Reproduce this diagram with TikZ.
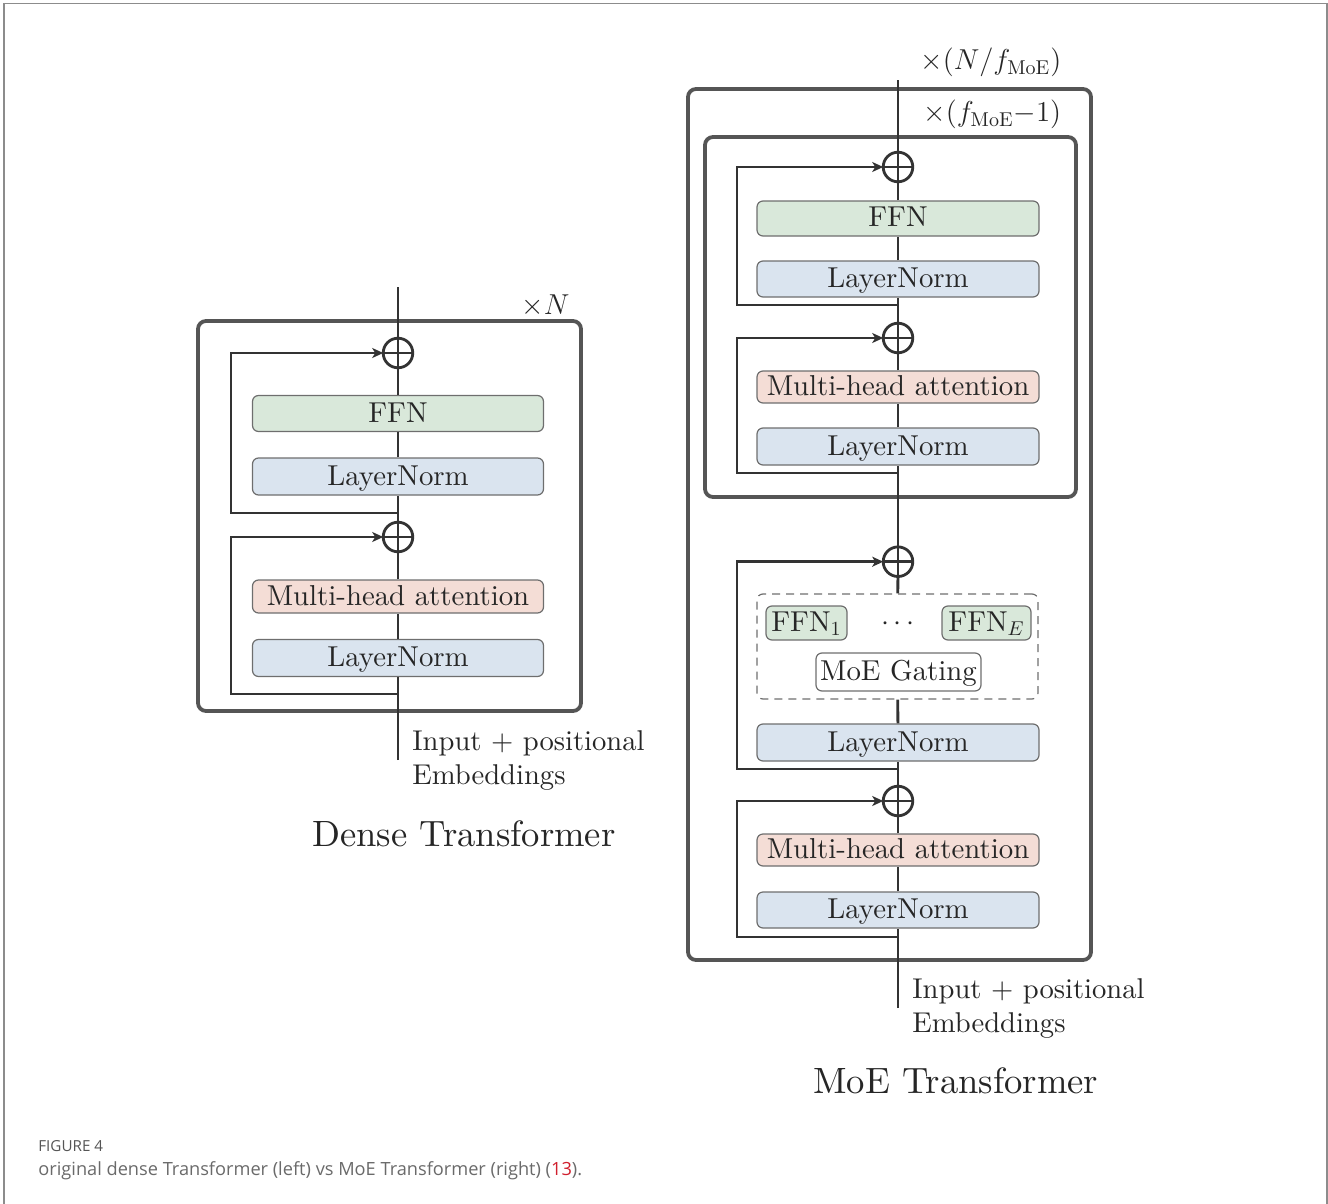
\documentclass[tikz,border=0pt]{standalone}
\usepackage{fontspec}
\setmainfont{lmroman10-regular}[Extension=.otf, BoldFont=lmroman10-bold, ItalicFont=lmroman10-italic]
\newfontfamily\capfont{Open Sans}
\usetikzlibrary{arrows.meta}
\definecolor{lncol}{HTML}{333333}
\definecolor{framecol}{HTML}{555555}
\definecolor{boxd}{HTML}{6E6E6E}
\definecolor{txt}{HTML}{262626}
\definecolor{ffncol}{HTML}{D9E8DA}
\definecolor{normcol}{HTML}{DAE4EF}
\definecolor{mhacol}{HTML}{F4DDD6}
\definecolor{capgray}{HTML}{6A6A6A}
\definecolor{capdark}{HTML}{555555}
\definecolor{refred}{HTML}{D0202E}
\begin{document}
\begin{tikzpicture}[x=0.5pt,y=-0.5pt,
  conn/.style={draw=lncol, line width=1.4pt},
  skip/.style={conn, -{Stealth[length=5.5pt,width=5pt,inset=1.5pt]}},
  blk/.style={draw=boxd, line width=0.6pt, rounded corners=3pt, inner sep=0pt,
    text=txt, font=\fontsize{14.4}{17}\selectfont, text height=10.6pt, text depth=2.1pt},
  ffnbox/.style={blk, fill=ffncol, minimum width=145.5pt, minimum height=18pt},
  normbox/.style={blk, fill=normcol, minimum width=145.5pt, minimum height=18.5pt},
  mhabox/.style={blk, fill=mhacol, minimum width=145.5pt, minimum height=16.5pt},
  plus/.style={circle, draw=lncol, line width=1.4pt, minimum size=14.8pt, inner sep=0pt, outer sep=0pt,
    path picture={\draw[lncol, line width=1.4pt] (path picture bounding box.north) -- (path picture bounding box.south)
      (path picture bounding box.west) -- (path picture bounding box.east);}},
  frame/.style={draw=framecol, line width=1.9pt, rounded corners=4pt, inner sep=0pt},
  lbl/.style={text=txt, inner sep=0pt, anchor=base west, font=\fontsize{14.4}{17}\selectfont},
  inlbl/.style={text=txt, inner sep=0pt, anchor=base west, font=\fontsize{14.3}{17}\selectfont},
  ttl/.style={text=txt, inner sep=0pt, anchor=base west, font=\fontsize{18.3}{21}\selectfont}
]
\useasboundingbox (0,0) rectangle (1328,1204);
% page frame (open at the bottom)
\draw[draw=gray!90, line width=0.75pt] (4,1204) -- (4,3.5) -- (1327,3.5) -- (1327,1204);

% ---------------- Dense Transformer ----------------
\node[frame, minimum width=191.5pt, minimum height=195pt] (dframe) at (389.5,516) {};
\coordinate (dtop) at (398,287);
\coordinate (din) at (398,760);
\node[plus] (dp1) at (398,353) {};
\node[ffnbox] (dffn) at (398,413.5) {FFN};
\node[normbox] (dln1) at (398,476.5) {LayerNorm};
\node[plus] (dp2) at (398,537) {};
\node[mhabox] (dmha) at (398,596.5) {Multi-head attention};
\node[normbox] (dln2) at (398,658) {LayerNorm};
\coordinate (dj1) at (398,513);
\coordinate (dj2) at (398,694);

\draw[conn] (din) -- (dln2);
\draw[conn] (dln2) -- (dmha);
\draw[conn] (dmha) -- (dp2);
\draw[conn] (dp2) -- (dln1);
\draw[conn] (dln1) -- (dffn);
\draw[conn] (dffn) -- (dp1);
\draw[conn] (dp1) -- (dtop);
\draw[skip] (dj1) -- ++(-167,0) |- (dp1.west);
\draw[skip] (dj2) -- ++(-167,0) |- (dp2.west);

\node[lbl] (dN) at (521,314) {$\times N$};
\node[inlbl] (din1) at (412,750) {Input + positional};
\node[inlbl] (din2) at (412,784) {Embeddings};
\node[ttl] (dtitle) at (312,846) {Dense Transformer};

% ---------------- MoE Transformer ----------------
\node[frame, minimum width=201.5pt, minimum height=435.5pt] (mframe) at (889.5,524.5) {};
\node[frame, minimum width=185.5pt, minimum height=180pt] (iframe) at (890.5,317) {};
\coordinate (mtop) at (898,80);
\coordinate (min) at (898,1008);
\node[plus] (mp1) at (898,167) {};
\node[ffnbox, minimum width=141pt, minimum height=17.5pt] (mffn) at (898,218.5) {FFN};
\node[normbox, minimum width=141pt, minimum height=18pt] (mln1) at (898,279) {LayerNorm};
\node[plus] (mp2) at (898,338) {};
\node[mhabox, minimum width=141pt, minimum height=16pt] (mmha1) at (898,387) {Multi-head attention};
\node[normbox, minimum width=141pt] (mln2) at (898,446.5) {LayerNorm};
\node[plus] (mp3) at (898,561.7) {};
\node[draw=boxd, dashed, dash pattern=on 4pt off 3pt, line width=0.6pt, rounded corners=3pt,
      minimum width=140.5pt, minimum height=52.5pt, inner sep=0pt] (mgroup) at (897.5,646.5) {};
\node[blk, fill=ffncol, minimum width=40.5pt, minimum height=17pt] (ffn1) at (806.5,623) {FFN$_1$};
\node[text=txt, inner sep=0pt, font=\fontsize{14.4}{17}\selectfont] (mdots) at (898,624) {$\cdots$};
\node[blk, fill=ffncol, minimum width=44.5pt, minimum height=17pt] (ffnE) at (986.5,623) {FFN$_E$};
\node[blk, fill=white, minimum width=82.5pt, minimum height=19pt] (gate) at (898.5,672) {MoE Gating};
\node[normbox, minimum width=141pt] (mln3) at (898,742.5) {LayerNorm};
\node[plus] (mp4) at (898,801) {};
\node[mhabox, minimum width=141pt, minimum height=16pt] (mmha2) at (898,850) {Multi-head attention};
\node[normbox, minimum width=141pt, minimum height=18pt] (mln4) at (898,910) {LayerNorm};
\coordinate (mj1) at (898,305);
\coordinate (mj2) at (898,473);
\coordinate (mj3) at (898,769);
\coordinate (mj4) at (898,937);

\draw[conn] (min) -- (mln4);
\draw[conn] (mln4) -- (mmha2);
\draw[conn] (mmha2) -- (mp4);
\draw[conn] (mp4) -- (mln3);
\draw[conn] (mln3) -- (mgroup);
\draw[conn] (mgroup) -- (mp3);
\draw[conn] (mp3) -- (mln2);
\draw[conn] (mln2) -- (mmha1);
\draw[conn] (mmha1) -- (mp2);
\draw[conn] (mp2) -- (mln1);
\draw[conn] (mln1) -- (mffn);
\draw[conn] (mffn) -- (mp1);
\draw[conn] (mp1) -- (mtop);
\draw[skip] (mj1) -- ++(-161,0) |- (mp1.west);
\draw[skip] (mj2) -- ++(-161,0) |- (mp2.west);
\draw[skip] (mj3) -- ++(-161,0) |- (mp3.west);
\draw[skip] (mj4) -- ++(-161,0) |- (mp4.west);

\node[lbl] (mN1) at (920,70) {$\times(N/f_{\mathrm{MoE}})$};
\node[lbl] (mN2) at (923,122) {$\times(f_{\mathrm{MoE}}{-}1)$};
\node[inlbl] (min1) at (912,998) {Input + positional};
\node[inlbl] (min2) at (912,1032) {Embeddings};
\node[ttl] (mtitle) at (813,1093) {MoE Transformer};

% ---------------- Caption ----------------
\node[inner sep=0pt, anchor=base west, text=capdark, font=\capfont\fontsize{7.6}{8}\selectfont] (figno) at (38,1151) {FIGURE 4};
\node[inner sep=0pt, anchor=base west, text=capgray, font=\capfont\fontsize{9.1}{10}\selectfont] (caption) at (38,1175)
  {original dense Transformer (left) vs MoE Transformer (right) ({\color{refred}13}).};
\end{tikzpicture}
\end{document}
